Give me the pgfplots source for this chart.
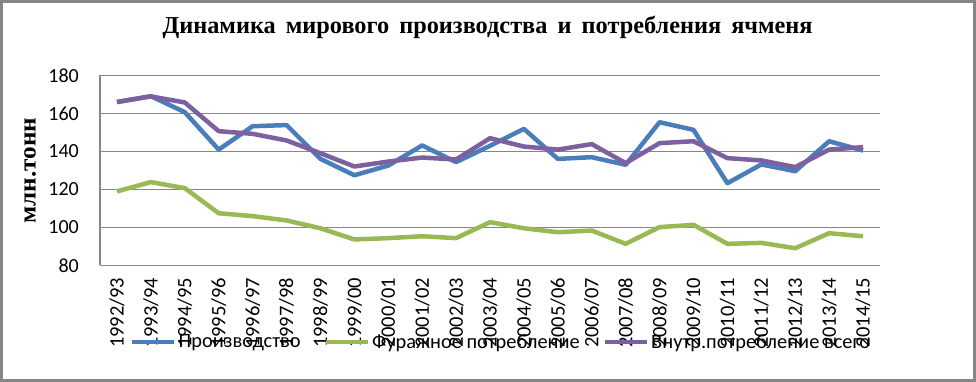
\documentclass[border=0pt]{standalone}
\usepackage{fontspec}
\usepackage{pgfplots}
\pgfplotsset{compat=1.18}
\setmainfont{Carlito}
\newfontfamily\titlefont{Liberation Serif}
\definecolor{cblue}{HTML}{4A7EBB}
\definecolor{cgreen}{HTML}{98B954}
\definecolor{cpurple}{HTML}{7D60A0}
\definecolor{cgrid}{HTML}{868686}
\begin{document}
\begin{tikzpicture}[x=1pt,y=1pt]
\useasboundingbox (0,0) rectangle (976,382);
\draw[cgrid, line width=2.6pt] (1.3,1.3) rectangle (974.7,380.7);
\begin{axis}[
  at={(100pt,116.5pt)}, anchor=south west,
  scale only axis, width=780pt, height=190pt,
  xmin=-0.5, xmax=22.5, ymin=80, ymax=180,
  ytick={80,100,...,180},
  xtick={0,...,22},
  xticklabels={1992/93,1993/94,1994/95,1995/96,1996/97,1997/98,1998/99,1999/00,2000/01,2001/02,2002/03,2003/04,2004/05,2005/06,2006/07,2007/08,2008/09,2009/10,2010/11,2011/12,2012/13,2013/14,2014/15},
  x tick label style={rotate=90, anchor=east, font=\fontsize{20.5}{23}\selectfont, inner sep=0pt},
  y tick label style={font=\fontsize{20}{24}\selectfont, inner sep=0pt},
  /pgf/number format/assume math mode=true,
  major tick length=0pt,
  xticklabel shift=12pt,
  yticklabel shift=21pt,
  axis x line*=bottom, axis y line*=left,
  axis line style={cgrid, line width=1.3pt, -},
  ymajorgrids, grid style={cgrid, line width=1.3pt},
  title={\titlefont\bfseries\fontsize{24.3}{28}\selectfont Динамика\ \,мирового\ \,производства\ \,и\ \,потребления\ \,ячменя},
  title style={at={(axis description cs:0.497,1.192)}, anchor=base, inner sep=0pt},
  ylabel={\scalebox{1.05}[1]{\titlefont\bfseries\fontsize{24}{28}\selectfont млн.тонн}},
  ylabel style={at={(axis description cs:-0.0897,0.5)}, anchor=center, rotate=0, inner sep=0pt},
  legend columns=3,
  legend style={at={(axis description cs:0.0385,-0.403)}, anchor=west, draw=none, fill=none,
     font=\fontsize{20.4}{24}\selectfont, inner sep=0pt,
     /tikz/every even column/.append style={column sep=21pt}},
  legend image code/.code={\draw[#1, line width=4.5pt] (0pt,0pt) -- (42pt,0pt);},
  every axis plot/.append style={line width=4.5pt, line join=round, mark=none},
]
\addplot[cblue] coordinates {(0,166.1)(1,169.1)(2,160.7)(3,141)(4,153.3)(5,153.9)(6,136.1)(7,127.5)(8,132.6)(9,143.2)(10,134.4)(11,143)(12,151.9)(13,136.1)(14,137)(15,133)(16,155.4)(17,151.4)(18,123.3)(19,133.2)(20,129.6)(21,145.4)(22,140.5)};
\addlegendentry{Производство}
\addplot[cgreen] coordinates {(0,119)(1,123.9)(2,120.7)(3,107.5)(4,106)(5,103.7)(6,99.6)(7,93.7)(8,94.4)(9,95.4)(10,94.4)(11,102.8)(12,99.6)(13,97.5)(14,98.4)(15,91.4)(16,100.2)(17,101.4)(18,91.4)(19,91.9)(20,89.1)(21,97)(22,95.4)};
\addlegendentry{Фуражное потребление}
\addplot[cpurple] coordinates {(0,166)(1,169)(2,165.8)(3,150.7)(4,149.3)(5,145.8)(6,139.1)(7,132.1)(8,134.7)(9,136.8)(10,135.8)(11,147)(12,142.6)(13,141)(14,143.9)(15,133.9)(16,144.4)(17,145.4)(18,136.5)(19,135.3)(20,131.8)(21,141)(22,142.3)};
\addlegendentry{Внутр.потребление всего}
\end{axis}
\end{tikzpicture}
\end{document}
